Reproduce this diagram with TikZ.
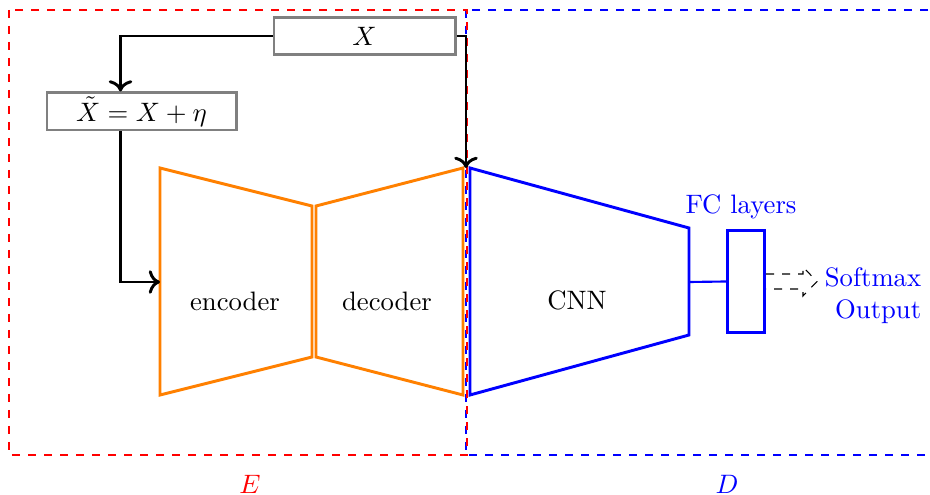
\documentclass[tikz,border=0pt]{standalone}
\usetikzlibrary{calc,arrows.meta}
\definecolor{myorange}{RGB}{255,128,0}
\begin{document}
\begin{tikzpicture}[x=0.375pt,y=-0.375pt,
  graybox/.style={draw=gray, line width=1pt, minimum height=14pt, inner sep=0pt},
  conn/.style={draw=black, line width=1.1pt, -{To[scale=1.05]}},
  orangeblk/.style={draw=myorange, line width=1.1pt, line join=miter},
  blueblk/.style={draw=blue, line width=1.1pt, line join=miter},
  regionE/.style={draw=red, dashed, line width=0.4pt},
  regionD/.style={draw=blue, dashed, line width=0.4pt},
  lbl/.style={inner sep=0pt}]
\useasboundingbox (0,0) rectangle (930,495);
% regions
\draw[regionD] (466,10) rectangle (940,455);
\draw[regionE] (9,10) rectangle (467,455);
% input boxes
\node[graybox, minimum width=68pt] (X) at (364.5,36) {$X$};
\node[graybox, minimum width=71pt] (Xt) at (141.5,111.5) {$\tilde{X}=X+\eta$};
\coordinate (XtTop) at ($(Xt.north west)+(75,0)$);
\coordinate (XtBot) at ($(Xt.south west)+(75,0)$);
% encoder / decoder / CNN
\coordinate (encL) at (160,282);
\coordinate (cnnTL) at (466,168);
\draw[orangeblk] (160,168) -- (312,206) -- (312,357) -- (160,395) -- cycle;
\draw[orangeblk] (316,206) -- (463,168) -- (463,395) -- (316,357) -- cycle;
\draw[blueblk] (470,168) -- (689,228) -- (689,335) -- (470,395) -- cycle;
\node[lbl] (enc) at (235,301) {encoder};
\node[lbl] (dec) at (387,301) {decoder};
\node[lbl] (cnn) at (577,300) {CNN};
% FC
\coordinate (cnnR) at (689,282);
\node[draw=blue, line width=1.1pt, minimum width=14pt, minimum height=38.5pt, inner sep=0pt] (fc) at (746,281.5) {};
\draw[blue, line width=0.8pt] (cnnR) -- (fc.west);
\node[lbl, text=blue] (fcl) at (741,207) {FC layers};
\node[lbl, text=blue, align=right] (sm) at (873,296) {Softmax\\Output};
% output arrow
\draw[dashed, line width=0.4pt] (fc.east |- 0,274) -- (803,274) -- (803,267) -- (817,281.5) -- (803,296) -- (803,289) -- (fc.east |- 0,289);
% connectors
\draw[conn] (X.west) -| (XtTop);
\draw[conn] (X.east) -| (cnnTL);
\draw[conn] (XtBot) |- (encL);
% region labels
\node[lbl, text=red] (E) at (250,484) {$E$};
\node[lbl, text=blue] (D) at (727,484) {$D$};
\end{tikzpicture}
\end{document}
